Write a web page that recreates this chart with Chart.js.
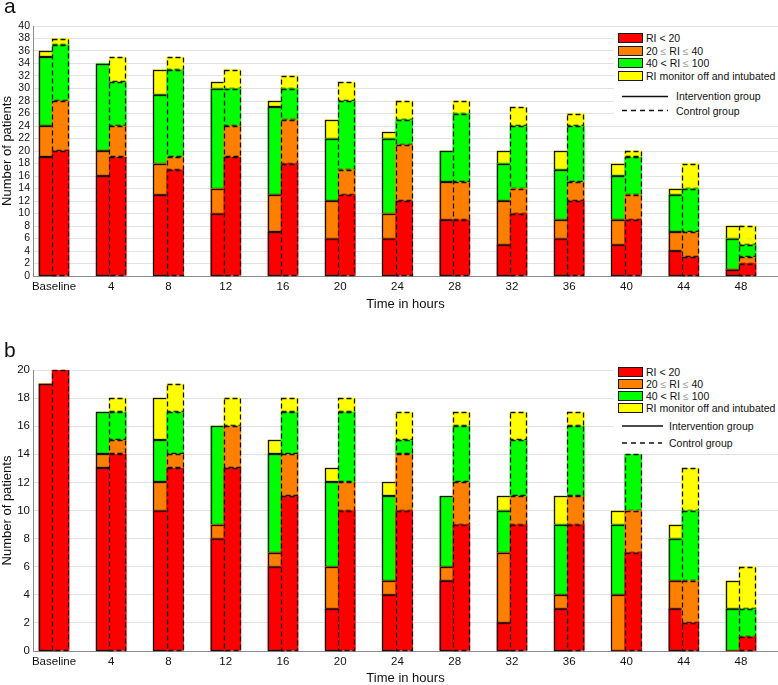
<!DOCTYPE html>
<html>
<head>
<meta charset="utf-8">
<script src="https://cdn.jsdelivr.net/npm/chart.js@4.4.1/dist/chart.umd.min.js"></script>
<style>
  body { margin: 0; background: #fff; font-family: 'Liberation Sans', Arial, sans-serif; }
  #wrap { position: relative; width: 778px; height: 685px; overflow: hidden; }
  canvas { position: absolute; left: 0; }
  .tag { position: absolute; left: 4px; font-size: 21px; line-height: 1; color: #111; }
  .legend { position: absolute; left: 614px; width: 164px; background: #fff; }
  .sw { position: absolute; left: 4px; width: 25px; height: 10px; box-sizing: border-box; border: 1px solid #1a1a1a; }
  .lt { position: absolute; font-size: 10.5px; line-height: 10px; color: #111; white-space: nowrap; }
  .le { color: #9a9a9a; }
  .legend svg { position: absolute; left: 0; top: 0; }
</style>
</head>
<body>
<div id="wrap">
  <canvas id="chartA" width="778" height="311" style="top:0"></canvas>
  <canvas id="chartB" width="778" height="374" style="top:311px"></canvas>

  <div class="tag" style="top:-5px">a</div>
  <div class="tag" style="top:339px">b</div>

  <div class="legend" style="top:28px; height:94px">
    <div class="sw" style="top:5px; background:#ff0000"></div>
    <div class="sw" style="top:18px; background:#ff8000"></div>
    <div class="sw" style="top:30px; background:#00ff00"></div>
    <div class="sw" style="top:43px; background:#ffff00"></div>
    <div class="lt" style="left:32px; top:5px">RI &lt; 20</div>
    <div class="lt" style="left:32px; top:18px">20 <span class="le">≤</span> RI <span class="le">≤</span> 40</div>
    <div class="lt" style="left:32px; top:30px">40 &lt; RI <span class="le">≤</span> 100</div>
    <div class="lt" style="left:32px; top:43px">RI monitor off and intubated</div>
    <svg width="164" height="94">
      <line x1="8" y1="68.5" x2="54" y2="68.5" stroke="#111" stroke-width="1.5"/>
      <line x1="8" y1="82.5" x2="54" y2="82.5" stroke="#111" stroke-width="1.5" stroke-dasharray="5 4"/>
    </svg>
    <div class="lt" style="left:62px; top:63px">Intervention group</div>
    <div class="lt" style="left:62px; top:78px">Control group</div>
  </div>

  <div class="legend" style="top:362px; height:91px">
    <div class="sw" style="top:5px; background:#ff0000"></div>
    <div class="sw" style="top:17px; background:#ff8000"></div>
    <div class="sw" style="top:29px; background:#00ff00"></div>
    <div class="sw" style="top:41px; background:#ffff00"></div>
    <div class="lt" style="left:32px; top:5px">RI &lt; 20</div>
    <div class="lt" style="left:32px; top:17px">20 <span class="le">≤</span> RI <span class="le">≤</span> 40</div>
    <div class="lt" style="left:32px; top:29px">40 &lt; RI <span class="le">≤</span> 100</div>
    <div class="lt" style="left:32px; top:41px">RI monitor off and intubated</div>
    <svg width="164" height="91">
      <line x1="8" y1="64" x2="49" y2="64" stroke="#111" stroke-width="1.5"/>
      <line x1="8" y1="81" x2="48" y2="81" stroke="#111" stroke-width="1.5" stroke-dasharray="5 4"/>
    </svg>
    <div class="lt" style="left:55px; top:59px">Intervention group</div>
    <div class="lt" style="left:55px; top:76px">Control group</div>
  </div>
</div>

<script>
const timeLabels = ['Baseline', '4', '8', '12', '16', '20', '24', '28', '32', '36', '40', '44', '48'];
const bandNames = ['RI < 20', '20 ≤ RI ≤ 40', '40 < RI ≤ 100', 'RI monitor off and intubated'];
const bandColors = ['#ff0000', '#ff8000', '#00ff00', '#ffff00'];

// panel a - intervention group
const aIntRed    = [19, 16, 13, 10, 7, 6, 6, 9, 5, 6, 5, 4, 1];
const aIntOrange = [5, 4, 5, 4, 6, 6, 4, 6, 7, 3, 4, 3, 0];
const aIntGreen  = [11, 14, 11, 16, 14, 10, 12, 5, 6, 8, 7, 6, 5];
const aIntOff    = [1, 0, 4, 1, 1, 3, 1, 0, 2, 3, 2, 1, 2];
// panel a - control group
const aCtlRed    = [20, 19, 17, 19, 18, 13, 12, 9, 10, 12, 9, 3, 2];
const aCtlOrange = [8, 5, 2, 5, 7, 4, 9, 6, 4, 3, 4, 4, 1];
const aCtlGreen  = [9, 7, 14, 6, 5, 11, 4, 11, 10, 9, 6, 7, 2];
const aCtlOff    = [1, 4, 2, 3, 2, 3, 3, 2, 3, 2, 1, 4, 3];

// panel b - intervention group
const bIntRed    = [19, 13, 10, 8, 6, 3, 4, 5, 2, 3, 0, 3, 0];
const bIntOrange = [0, 1, 2, 1, 1, 3, 1, 1, 5, 1, 4, 2, 0];
const bIntGreen  = [0, 3, 3, 7, 7, 6, 6, 5, 3, 5, 5, 3, 3];
const bIntOff    = [0, 0, 3, 0, 1, 1, 1, 0, 1, 2, 1, 1, 2];
// panel b - control group
const bCtlRed    = [20, 14, 13, 13, 11, 10, 10, 9, 9, 9, 7, 2, 1];
const bCtlOrange = [0, 1, 1, 3, 3, 2, 4, 3, 2, 2, 3, 3, 0];
const bCtlGreen  = [0, 2, 3, 0, 3, 5, 1, 4, 4, 5, 4, 5, 2];
const bCtlOff    = [0, 1, 2, 2, 1, 1, 2, 1, 2, 1, 0, 3, 3];

const FONT = "'Liberation Sans', Arial, sans-serif";
const barShift = 0.115;

// chart.js bars have no dashed borders, so outline every segment here
const outlinePlugin = {
    id: 'outline',
    afterDatasetDraw(chart, args) {
        const ds = chart.data.datasets[args.index];
        const ctx = chart.ctx;
        ctx.save();
        ctx.strokeStyle = '#111';
        ctx.lineWidth = 1.3;
        ctx.setLineDash(ds.stack === 'control' ? [5, 3] : []);
        args.meta.data.forEach(bar => {
            const p = bar.getProps(['x', 'y', 'base', 'width'], true);
            if (Math.abs(p.base - p.y) < 0.5) return;
            const l = Math.round(p.x - p.width / 2) + 0.5;
            const r = Math.round(p.x + p.width / 2) - 0.5;
            const t = Math.round(Math.min(p.y, p.base)) + 0.5;
            const b = Math.round(Math.max(p.y, p.base)) - 0.5;
            ctx.strokeRect(l, t, r - l, b - t);
        });
        ctx.restore();
    }
};

function makeSets(series, group) {
    const shift = group === 'control' ? barShift : -barShift;
    return series.map((vals, k) => ({
        label: bandNames[k] + ' (' + group + ')',
        stack: group,
        order: group === 'control' ? 1 : 2,
        data: vals.map((v, i) => ({ x: i + shift, y: v })),
        backgroundColor: bandColors[k],
        borderWidth: 0,
        barThickness: 17,
        grouped: false
    }));
}

function buildPanel(id, intSeries, ctlSeries, yMax, topPad, axisH, yFontSize) {
    const ctx = document.getElementById(id).getContext('2d');
    new Chart(ctx, {
        type: 'bar',
        data: {
            datasets: [...makeSets(ctlSeries, 'control'), ...makeSets(intSeries, 'intervention')]
        },
        plugins: [outlinePlugin],
        options: {
            responsive: false,
            animation: false,
            events: [],
            layout: { padding: { top: topPad, left: 0, right: 0, bottom: 0 } },
            plugins: {
                legend: { display: false },
                tooltip: { enabled: false }
            },
            scales: {
                x: {
                    type: 'linear',
                    offset: false,
                    min: -0.3668,
                    max: 12.646,
                    grid: { display: false, drawTicks: false, offset: false },
                    border: { display: true, color: '#8c8c8c' },
                    afterBuildTicks: s => { s.ticks = timeLabels.map((_, i) => ({ value: i })); },
                    afterFit: s => { s.height = axisH; },
                    ticks: {
                        autoSkip: false,
                        maxRotation: 0,
                        padding: 4,
                        color: '#111',
                        font: { family: FONT, size: 11.5 },
                        callback: v => timeLabels[Math.round(v)]
                    },
                    title: {
                        display: true,
                        text: 'Time in hours',
                        color: '#111',
                        padding: { top: 0, bottom: 0 },
                        font: { family: FONT, size: 13, lineHeight: 1 }
                    }
                },
                y: {
                    stacked: true,
                    min: 0,
                    max: yMax,
                    grid: { color: '#e2e2e2', drawTicks: false },
                    border: { display: true, color: '#8c8c8c' },
                    afterFit: s => { s.width = 33; },
                    ticks: {
                        stepSize: 2,
                        autoSkip: false,
                        padding: 3,
                        color: '#111',
                        font: { family: FONT, size: yFontSize }
                    },
                    title: {
                        display: true,
                        text: 'Number of patients',
                        color: '#111',
                        padding: { top: 1, bottom: 0 },
                        font: { family: FONT, size: 13, lineHeight: 1 }
                    }
                }
            }
        }
    });
}

window.onload = function () {
    buildPanel('chartA',
        [aIntRed, aIntOrange, aIntGreen, aIntOff],
        [aCtlRed, aCtlOrange, aCtlGreen, aCtlOff],
        40, 26, 35, 10.5);
    buildPanel('chartB',
        [bIntRed, bIntOrange, bIntGreen, bIntOff],
        [bCtlRed, bCtlOrange, bCtlGreen, bCtlOff],
        20, 59, 34, 11.5);
};
</script>
</body>
</html>
